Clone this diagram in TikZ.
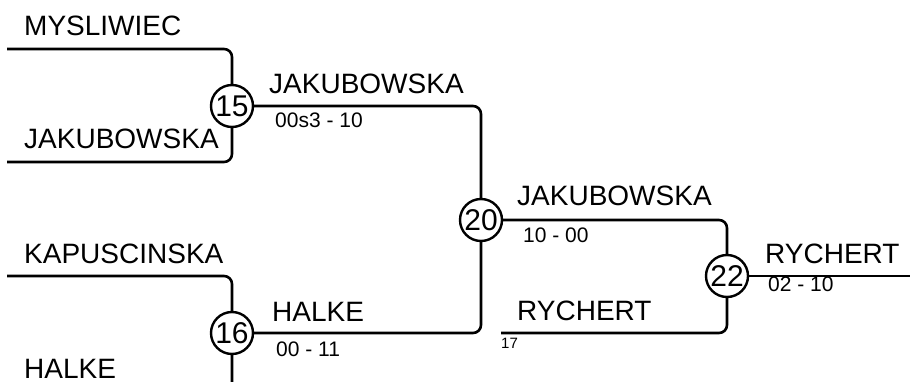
\documentclass[tikz,border=0pt]{standalone}
\usepackage{fontspec}
\setmainfont{Liberation Sans}
\usepackage{tikz}

\begin{document}
\begin{tikzpicture}[x=1pt,y=-1pt,
    line/.style={line width=2.6pt, rounded corners=8pt},
    match/.style={circle, draw, line width=2.4pt, minimum size=42pt, inner sep=0pt, font=\fontsize{30}{30}\selectfont},
    player/.style={anchor=base west, inner sep=0pt, font=\fontsize{28}{28}\selectfont},
    score/.style={anchor=base west, inner sep=0pt, font=\fontsize{21}{21}\selectfont}]
        \useasboundingbox (0,0) rectangle (910,382);
        \clip (0,0) rectangle (910,382);
        % matches
        \node[match] (m15) at (232,106) {15};
        \node[match] (m16) at (232,333) {16};
        \node[match] (m20) at (481,220) {20};
        \node[match] (m22) at (727,276) {22};
        % free ends
        \coordinate (s1) at (7,49);
        \coordinate (s2) at (7,162);
        \coordinate (s3) at (7,276);
        \coordinate (s4) at (7,390);
        \coordinate (s5) at (501,333);
        \coordinate (e) at (910,276);
        \draw[line] (s1) -| (m15);
        \draw[line] (s2) -| (m15);
        \draw[line] (s3) -| (m16);
        \draw[line] (s4) -| (m16);
        \draw[line] (m15) -| (m20);
        \draw[line] (m16) -| (m20);
        \draw[line] (m20) -| (m22);
        \draw[line] (s5) -| (m22);
        \draw[line] (m22) -- (e);
        % names
        \node[player] (p1) at (24,36) {MYSLIWIEC};
        \node[player] (p2) at (24,149) {JAKUBOWSKA};
        \node[player] (p3) at (24,263) {KAPUSCINSKA};
        \node[player] (p4) at (24,378) {HALKE};
        \node[player] (w15) at (269,94) {JAKUBOWSKA};
        \node[player] (w16) at (272,321) {HALKE};
        \node[player] (w20) at (517,206) {JAKUBOWSKA};
        \node[player] (w17) at (517,320) {RYCHERT};
        \node[player] (w22) at (765,263) {RYCHERT};
        % scores
        \node[score] (r15) at (275,128) {00s3 - 10};
        \node[score] (r16) at (276,356) {00 - 11};
        \node[score] (r20) at (523,243) {10 - 00};
        \node[score] (r22) at (768,291) {02 - 10};
        \node[score, font=\fontsize{15}{15}\selectfont] (n17) at (501,348) {17};
    \end{tikzpicture}
\end{document}
